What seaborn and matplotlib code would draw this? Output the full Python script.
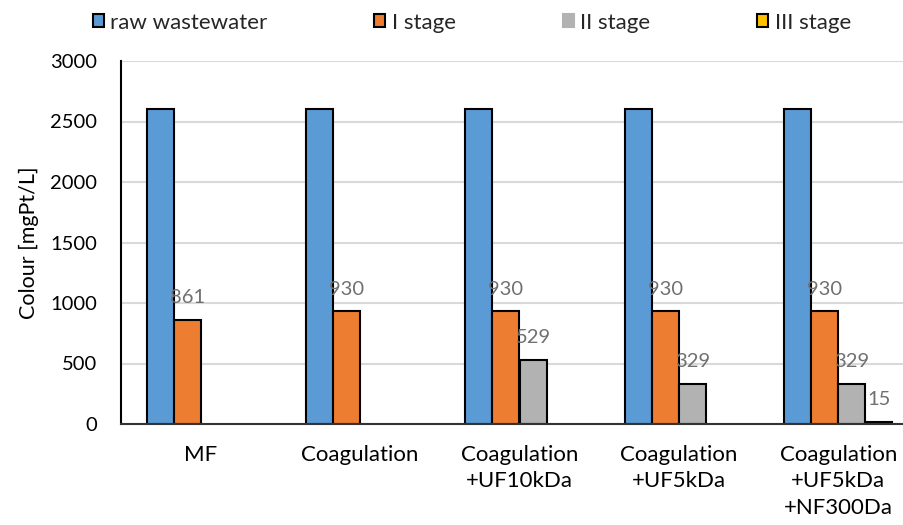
import matplotlib
matplotlib.use("Agg")
import matplotlib.pyplot as plt
from matplotlib.patches import Patch
import seaborn as sns
import pandas as pd
import numpy as np

categories = ["MF", "Coagulation", "Coagulation\n+UF10kDa", "Coagulation\n+UF5kDa", "Coagulation\n+UF5kDa\n+NF300Da"]
series = ["raw wastewater", "I stage", "II stage", "III stage"]
raw_wastewater = [2600, 2600, 2600, 2600, 2600]
stage_1 = [861, 930, 930, 930, 930]
stage_2 = [np.nan, np.nan, 529, 329, 329]
stage_3 = [np.nan, np.nan, np.nan, np.nan, 15]
colors = ["#5B9BD5", "#ED7D31", "#B2B2B2", "#FFC000"]
yticks = [0, 500, 1000, 1500, 2000, 2500, 3000]

rows = []
for s, vals in zip(series, [raw_wastewater, stage_1, stage_2, stage_3]):
    for c, v in zip(categories, vals):
        rows.append({"category": c, "series": s, "value": v})
df = pd.DataFrame(rows)

sns.set_theme(style="white")
plt.rcParams["font.family"] = ["Lato", "DejaVu Sans"]

fig = plt.figure(figsize=(9.04, 5.25), dpi=100)
ax = fig.add_axes([121/904, 1-424/525, 797/904, 363/525])

sns.barplot(data=df, x="category", y="value", hue="series", order=categories,
            hue_order=series, palette=colors, width=0.68, edgecolor="black",
            linewidth=1.5, ax=ax, legend=False, errorbar=None, saturation=1)

ax.set_ylim(0, 3000)
ax.set_yticks(yticks)
ax.yaxis.grid(True, color="#D9D9D9", linewidth=1.5)
ax.set_axisbelow(True)
for side in ["top", "right"]:
    ax.spines[side].set_visible(False)
ax.spines["left"].set_color("black")
ax.spines["left"].set_linewidth(1.5)
ax.spines["bottom"].set_color("#333333")
ax.spines["bottom"].set_linewidth(1.5)
ax.tick_params(axis="y", length=0, pad=17, labelsize=14.5, labelcolor="black")
ax.tick_params(axis="x", length=0, pad=15, labelsize=16, labelcolor="black")
for lbl in ax.get_xticklabels():
    lbl.set_linespacing(1.4)
ax.set_xlabel("")
ax.set_ylabel("Colour [mgPt/L]", fontsize=15.5, color="black", labelpad=8)

for cont in ax.containers[1:]:
    ax.bar_label(cont, fmt="%.0f", padding=10, fontsize=14.5, color="#707070")

handles = [Patch(facecolor=colors[0], edgecolor="black", linewidth=1.5),
           Patch(facecolor=colors[1], edgecolor="black", linewidth=1.5),
           Patch(facecolor=colors[2], edgecolor=colors[2], linewidth=1.5),
           Patch(facecolor=colors[3], edgecolor="black", linewidth=1.5)]
fig.legend(handles, series, loc="center", bbox_to_anchor=(0.522, 0.957), ncol=4,
           frameon=False, fontsize=16, handlelength=0.5, handleheight=0.5,
           handletextpad=0.3, columnspacing=4.8)

fig.savefig("out.png", dpi=100)
